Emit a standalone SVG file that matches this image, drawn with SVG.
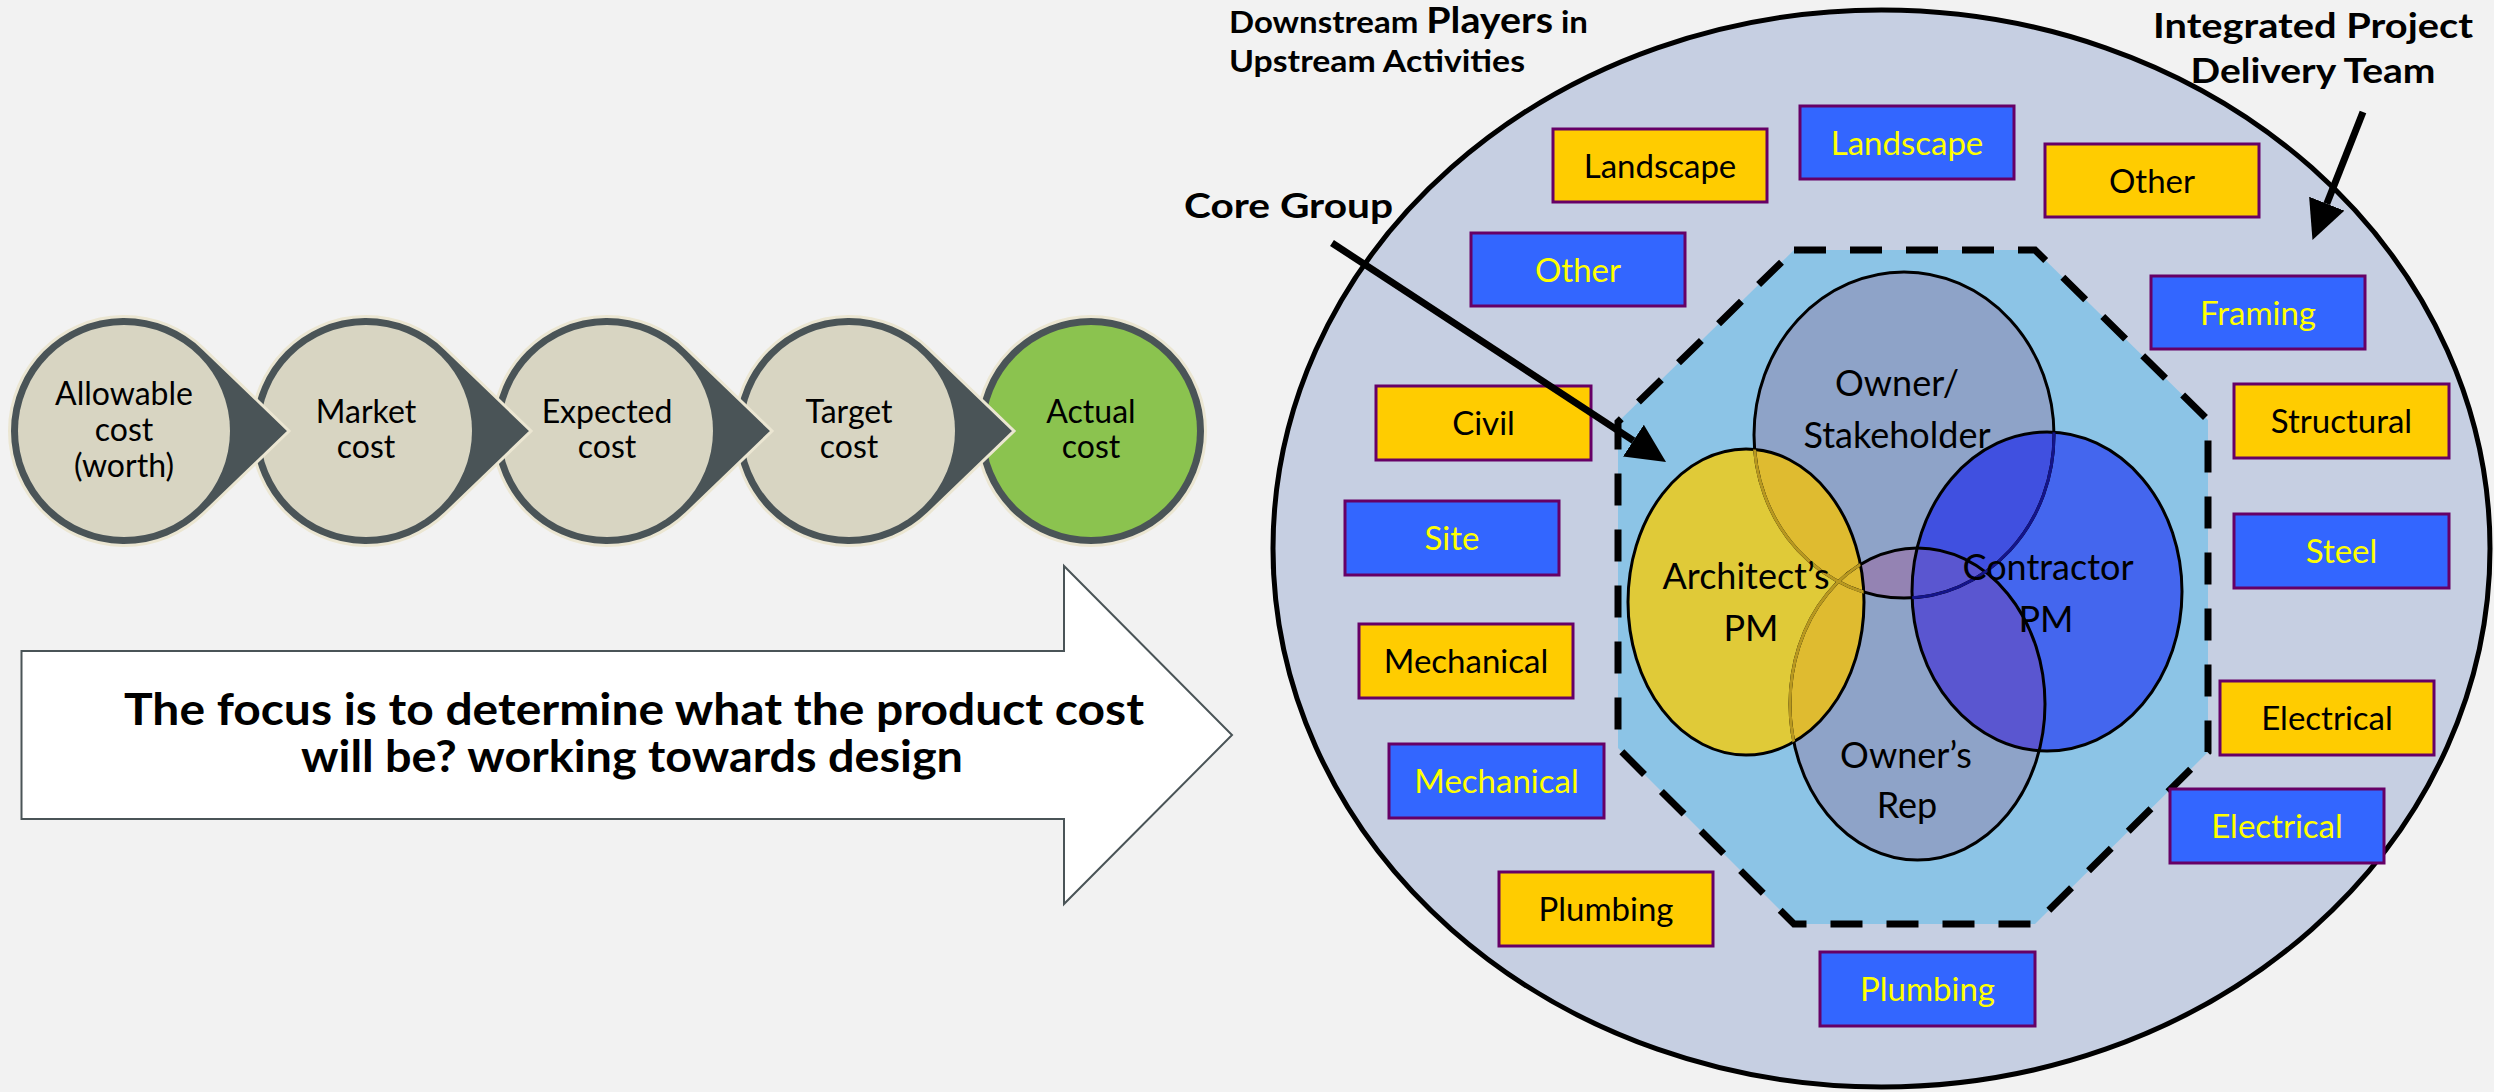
<svg xmlns="http://www.w3.org/2000/svg" xmlns:xlink="http://www.w3.org/1999/xlink" width="2494" height="1092" viewBox="0 0 2494 1092">
<style>
.t{font-family:Lato,'Liberation Sans',sans-serif;fill:#000}
.b{font-weight:bold}
.cc{font-size:32px;text-anchor:middle}
.shell{fill:#4a5457;stroke:#ebe6d2;stroke-width:3}
.inner{fill:#d8d5c2}
.by{fill:#ffcc00;stroke:#660066;stroke-width:3}
.bb{fill:#3366ff;stroke:#660066;stroke-width:3}
.bt{font-family:Lato,'Liberation Sans',sans-serif;font-size:33px;text-anchor:middle}
.ty{fill:#000}
.tb{fill:#ffff00}
.vt{font-family:Lato,'Liberation Sans',sans-serif;font-size:36px;text-anchor:middle;fill:#000}
.ol{fill:none;stroke:#000;stroke-width:3}
.conn{stroke:#000;stroke-width:7;fill:none}
</style>
<defs>
<path id="chev" d="M79.5,-82.4 L165,0 L79.5,82.4 A114.5,114.5 0 1 1 79.5,-82.4 Z"/>
<marker id="ah" viewBox="0 0 39 38" refX="0" refY="19" markerWidth="39" markerHeight="38" markerUnits="userSpaceOnUse" orient="auto">
<path d="M0,0 L39,19 L0,38 Z" fill="#000"/>
</marker>
<clipPath id="cS"><ellipse cx="1904" cy="435" rx="150" ry="163"/></clipPath>
<clipPath id="cR"><ellipse cx="1917.5" cy="704" rx="127.5" ry="156"/></clipPath>
<clipPath id="cC"><ellipse cx="2047" cy="591.5" rx="135" ry="159.5"/></clipPath>
<clipPath id="cA"><ellipse cx="1746" cy="602" rx="118" ry="153"/></clipPath>
</defs>
<rect width="2494" height="1092" fill="#f2f2f2"/>

<!-- Cost process -->
<g id="actual-cost">
<circle class="shell" cx="1091" cy="431" r="114.5"/>
<circle cx="1091" cy="431" r="106" fill="#8bc34f"/>
<text class="t cc" x="1091" y="423">Actual</text>
<text class="t cc" x="1091" y="458">cost</text>
</g>
<g id="target-cost">
<use href="#chev" x="849" y="431" class="shell"/>
<circle class="inner" cx="849" cy="431" r="106"/>
<text class="t cc" x="849" y="423">Target</text>
<text class="t cc" x="849" y="458">cost</text>
</g>
<g id="expected-cost">
<use href="#chev" x="607" y="431" class="shell"/>
<circle class="inner" cx="607" cy="431" r="106"/>
<text class="t cc" x="607" y="423">Expected</text>
<text class="t cc" x="607" y="458">cost</text>
</g>
<g id="market-cost">
<use href="#chev" x="366" y="431" class="shell"/>
<circle class="inner" cx="366" cy="431" r="106"/>
<text class="t cc" x="366" y="423">Market</text>
<text class="t cc" x="366" y="458">cost</text>
</g>
<g id="allowable-cost">
<use href="#chev" x="124" y="431" class="shell"/>
<circle class="inner" cx="124" cy="431" r="106"/>
<text class="t cc" x="124" y="405">Allowable</text>
<text class="t cc" x="124" y="441">cost</text>
<text class="t cc" x="124" y="477">(worth)</text>
</g>

<g id="focus-arrow">
<path d="M21.5,651 L1064,651 L1064,566 L1232,735 L1064,904 L1064,819 L21.5,819 Z" fill="#ffffff" stroke="#4a5457" stroke-width="2"/>
<text class="t b" x="634" y="725" font-size="44" text-anchor="middle" textLength="1020" lengthAdjust="spacingAndGlyphs">The focus is to determine what the product cost</text>
<text class="t b" x="632" y="772" font-size="44" text-anchor="middle" textLength="662" lengthAdjust="spacingAndGlyphs">will be? working towards design</text>
</g>

<!-- IPD team -->
<g id="ipd-team">
<ellipse cx="1881.5" cy="548.5" rx="608.5" ry="538.5" fill="#c6cfe2" stroke="#000" stroke-width="5"/>
</g>
<g id="core-group-area">
<polygon points="1794,250 2035,250 2208,420 2208,752 2035,924 1794,924 1618,748 1618,422" fill="#8cc4e6" stroke="#000" stroke-width="7" stroke-dasharray="32 24"/>
</g>

<g id="venn">
<ellipse cx="1904" cy="435" rx="150" ry="163" fill="#8ea3c8"/>
<ellipse cx="1917.5" cy="704" rx="127.5" ry="156" fill="#8ea3c8"/>
<ellipse cx="1917.5" cy="704" rx="127.5" ry="156" fill="#9483b3" clip-path="url(#cS)"/>
<ellipse cx="2047" cy="591.5" rx="135" ry="159.5" fill="#4466ee"/>
<ellipse cx="2047" cy="591.5" rx="135" ry="159.5" fill="#4050e0" clip-path="url(#cS)"/>
<ellipse cx="2047" cy="591.5" rx="135" ry="159.5" fill="#5a56d0" clip-path="url(#cR)"/>
<ellipse cx="1746" cy="602" rx="118" ry="153" fill="#e0ca38"/>
<ellipse cx="1746" cy="602" rx="118" ry="153" fill="#dfbb30" clip-path="url(#cS)"/>
<ellipse cx="1746" cy="602" rx="118" ry="153" fill="#dfbb30" clip-path="url(#cR)"/>
<ellipse class="ol" cx="1904" cy="435" rx="150" ry="163"/>
<ellipse class="ol" cx="1917.5" cy="704" rx="127.5" ry="156"/>
<ellipse class="ol" cx="2047" cy="591.5" rx="135" ry="159.5"/>
<ellipse class="ol" cx="1746" cy="602" rx="118" ry="153"/>
<ellipse cx="1904" cy="435" rx="150" ry="163" fill="none" stroke="#14148a" stroke-width="3" clip-path="url(#cC)"/>
<ellipse cx="1904" cy="435" rx="150" ry="163" fill="none" stroke="#b89820" stroke-width="3" clip-path="url(#cA)"/>
<ellipse cx="1917.5" cy="704" rx="127.5" ry="156" fill="none" stroke="#b89820" stroke-width="3" clip-path="url(#cA)"/>
</g>
<g id="owner-stakeholder">
<text class="vt" x="1897" y="396">Owner/</text>
<text class="vt" x="1897" y="448">Stakeholder</text>
</g>
<g id="architects-pm">
<text class="vt" x="1746" y="589">Architect’s</text>
<text class="vt" x="1751" y="641">PM</text>
</g>
<g id="contractor-pm">
<text class="vt" x="2048" y="580">Contractor</text>
<text class="vt" x="2046" y="632">PM</text>
</g>
<g id="owners-rep">
<text class="vt" x="1906" y="768">Owner’s</text>
<text class="vt" x="1907" y="818">Rep</text>
</g>

<!-- trade boxes -->
<g id="landscape-y"><rect class="by" x="1553" y="129" width="214" height="73"/><text class="bt ty" x="1660" y="178">Landscape</text></g>
<g id="landscape-b"><rect class="bb" x="1800" y="106" width="214" height="73"/><text class="bt tb" x="1907" y="155">Landscape</text></g>
<g id="other-y"><rect class="by" x="2045" y="144" width="214" height="73"/><text class="bt ty" x="2152" y="193">Other</text></g>
<g id="other-b"><rect class="bb" x="1471" y="233" width="214" height="73"/><text class="bt tb" x="1578" y="282">Other</text></g>
<g id="framing-b"><rect class="bb" x="2151" y="276" width="214" height="73"/><text class="bt tb" x="2258" y="325">Framing</text></g>
<g id="civil-y"><rect class="by" x="1376" y="386" width="215" height="74"/><text class="bt ty" x="1483.5" y="435">Civil</text></g>
<g id="structural-y"><rect class="by" x="2234" y="384" width="215" height="74"/><text class="bt ty" x="2341.5" y="433">Structural</text></g>
<g id="site-b"><rect class="bb" x="1345" y="501" width="214" height="74"/><text class="bt tb" x="1452" y="550">Site</text></g>
<g id="steel-b"><rect class="bb" x="2234" y="514" width="215" height="74"/><text class="bt tb" x="2341.5" y="563">Steel</text></g>
<g id="mechanical-y"><rect class="by" x="1359" y="624" width="214" height="74"/><text class="bt ty" x="1466" y="673">Mechanical</text></g>
<g id="electrical-y"><rect class="by" x="2220" y="681" width="214" height="74"/><text class="bt ty" x="2327" y="730">Electrical</text></g>
<g id="mechanical-b"><rect class="bb" x="1389" y="744" width="215" height="74"/><text class="bt tb" x="1496.5" y="793">Mechanical</text></g>
<g id="electrical-b"><rect class="bb" x="2170" y="789" width="214" height="74"/><text class="bt tb" x="2277" y="838">Electrical</text></g>
<g id="plumbing-y"><rect class="by" x="1499" y="872" width="214" height="74"/><text class="bt ty" x="1606" y="921">Plumbing</text></g>
<g id="plumbing-b"><rect class="bb" x="1820" y="952" width="215" height="74"/><text class="bt tb" x="1927.5" y="1001">Plumbing</text></g>

<!-- labels -->
<g id="label-downstream">
<text class="t b" x="1229" y="33" font-size="31" textLength="359" lengthAdjust="spacingAndGlyphs">Downstream <tspan font-size="37">Players</tspan> in</text>
<text class="t b" x="1229" y="72" font-size="31" textLength="296" lengthAdjust="spacingAndGlyphs">Upstream Activities</text>
</g>
<g id="label-core">
<text class="t b" x="1184" y="218" font-size="35" textLength="209" lengthAdjust="spacingAndGlyphs">Core Group</text>
</g>
<g id="label-ipd">
<text class="t b" x="2313" y="38" font-size="35" text-anchor="middle" textLength="320" lengthAdjust="spacingAndGlyphs">Integrated Project</text>
<text class="t b" x="2313" y="83" font-size="35" text-anchor="middle" textLength="245" lengthAdjust="spacingAndGlyphs">Delivery Team</text>
</g>

<g id="connectors">
<line class="conn" x1="1332" y1="243" x2="1633.4" y2="440.6" marker-end="url(#ah)"/>
<line class="conn" x1="2363" y1="112" x2="2326.8" y2="203.7" marker-end="url(#ah)"/>
</g>
</svg>
